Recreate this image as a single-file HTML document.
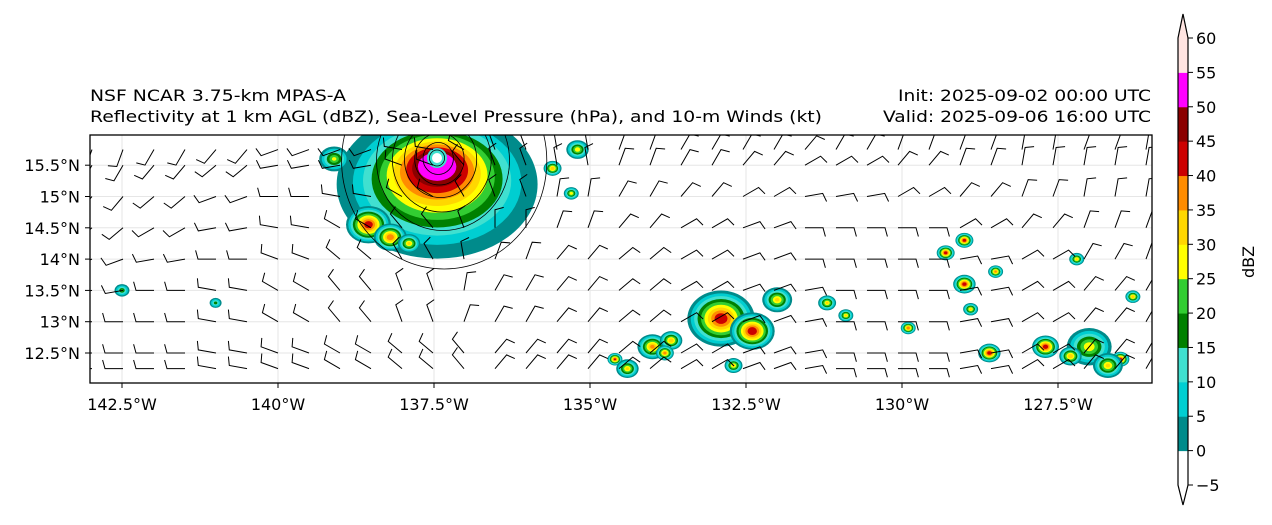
<!DOCTYPE html>
<html><head><meta charset="utf-8">
<style>
body{margin:0;background:#fff;width:1272px;height:520px;overflow:hidden;font-family:"Liberation Sans","DejaVu Sans",sans-serif}
svg text{font-family:"DejaVu Sans","Liberation Sans",sans-serif}
</style></head>
<body>
<svg id="s" width="1272" height="520" xmlns="http://www.w3.org/2000/svg">
<defs><clipPath id="mc"><rect x="90" y="135" width="1062" height="248"/></clipPath></defs>
<text x="90" y="101" font-size="16" textLength="256" lengthAdjust="spacingAndGlyphs">NSF NCAR 3.75-km MPAS-A</text>
<text x="90" y="122" font-size="16" textLength="732" lengthAdjust="spacingAndGlyphs">Reflectivity at 1 km AGL (dBZ), Sea-Level Pressure (hPa), and 10-m Winds (kt)</text>
<text x="1151" y="101" font-size="16" text-anchor="end" textLength="253" lengthAdjust="spacingAndGlyphs">Init: 2025-09-02 00:00 UTC</text>
<text x="1151" y="122" font-size="16" text-anchor="end" textLength="268" lengthAdjust="spacingAndGlyphs">Valid: 2025-09-06 16:00 UTC</text>
<g id="map" clip-path="url(#mc)"></g>
<rect x="90" y="135" width="1062" height="248" fill="none" stroke="#000" stroke-width="1.3"/>
<g id="axes"></g>
<g id="cbar"></g>
<text x="1254" y="262" font-size="16" text-anchor="middle" transform="rotate(-90 1254 262)">dBZ</text>
</svg>
<script>
const lonTicks=[-142.5,-140,-137.5,-135,-132.5,-130,-127.5];
const latTicks=[12.5,13,13.5,14,14.5,15,15.5];
const cbLevels=[-5,0,5,10,15,20,25,30,35,40,45,50,55,60];
const cbColors=['#ffffff','#008b8b','#00ced1','#40e0d0','#008000','#32cd32','#ffff00','#ffd700','#ff8c00','#cc0000','#8b0000','#ff00ff','#ffe4e1'];
// storm cells: lon, lat, radius(deg), peak dBZ
const cellLon=[-137.45,-138.55,-138.2,-137.9,-135.6,-135.3,-132.9,-132.4,-132.0,-134.0,-133.7,-131.2,-129.3,-129.0,-128.6,-128.9,-127.7,-127.0,-126.5,-126.3,-129.0,-134.6,-133.8,-128.5,-127.2,-132.7,-130.9,-129.9,-142.5,-141.0,-139.1,-135.2,-134.4,-126.7,-127.3];
const cellLat=[15.45,14.55,14.35,14.25,15.45,15.05,13.05,12.85,13.35,12.6,12.7,13.3,14.1,13.6,12.5,13.2,12.6,12.6,12.4,13.4,14.3,12.4,12.5,13.8,14.0,12.3,13.1,12.9,13.5,13.3,15.6,15.75,12.25,12.3,12.45];
const cellR=[1.4,0.3,0.22,0.15,0.12,0.1,0.45,0.3,0.2,0.2,0.15,0.12,0.12,0.15,0.15,0.1,0.18,0.3,0.12,0.1,0.12,0.1,0.12,0.1,0.1,0.12,0.1,0.1,0.1,0.08,0.2,0.15,0.15,0.2,0.15];
const cellPeak=[51,42,38,30,33,28,42,43,30,35,33,30,42,42,42,30,42,28,42,33,42,40,36,35,30,30,30,38,20,18,25,28,30,30,33];
// wind barbs: rows of direction (deg, direction wind blows FROM) per column band
const barbRows=[15.75,15.5,15.0,14.5,14.0,13.5,13.0,12.5,12.25];
const barbBandDir=[[200,210,220,250,250,280,300,340,350,20,30,30,40,30,20,20,10,20,10],[210,220,230,260,260,290,320,340,350,20,30,40,60,60,40,20,10,10,10],[220,230,250,270,280,300,330,340,10,30,40,60,80,80,60,40,20,10,10],[230,240,260,280,300,320,340,0,20,40,60,70,90,90,90,60,40,20,20],[250,260,270,290,310,330,350,20,40,50,60,70,90,90,90,80,60,30,20],[260,270,280,300,320,340,10,30,40,50,60,70,80,90,90,80,60,40,30],[270,270,280,300,320,340,20,30,40,50,60,70,80,90,90,80,60,40,30],[270,270,280,290,300,310,320,40,40,50,60,70,80,90,90,80,60,40,30],[270,270,280,290,300,310,320,40,40,50,60,70,80,90,90,80,60,40,30]];
const NS='http://www.w3.org/2000/svg';
const X=lon=>122+(lon+142.5)*156/2.5, Y=lat=>353-(lat-12.5)*62.6;
const pxDeg=62.4;
function el(t,a,p){const e=document.createElementNS(NS,t);for(const k in a)e.setAttribute(k,a[k]);p.appendChild(e);return e;}
const map=document.getElementById('map'),axes=document.getElementById('axes'),cb=document.getElementById('cbar');
lonTicks.forEach(l=>{const g=el('line',{x1:X(l),x2:X(l),y1:135,y2:383,stroke:'#e6e6e6','stroke-width':1},map);


const t=el('text',{x:X(l),y:410,'font-size':16,'text-anchor':'middle'},axes);t.textContent=(-l)+'°W';


el('line',{x1:X(l),x2:X(l),y1:383,y2:388,stroke:'#000'},axes);});
latTicks.forEach(l=>{const g=el('line',{x1:90,x2:1152,y1:Y(l),y2:Y(l),stroke:'#e6e6e6','stroke-width':1},map);


const t=el('text',{x:80,y:Y(l)+6,'font-size':16,'text-anchor':'end'},axes);t.textContent=l+'°N';


el('line',{x1:85,x2:90,y1:Y(l),y2:Y(l),stroke:'#000'},axes);});
function colorFor(v){let i=0;while(i<cbLevels.length-1&&v>=cbLevels[i+1])i++;return cbColors[Math.min(i,cbColors.length-1)];}
cellLon.forEach((lon,i)=>{const g=el('g',{},map);


const cx=X(lon),cy=Y(cellLat[i]),r=cellR[i]*pxDeg,pk=cellPeak[i];
const big=i===0;
for(let v=0;v<=pk;v+=5){const t=v/pk;const f=big?(1-Math.pow(t,0.7)*0.82):(1-t*0.85);const rx=r*f*(big?1.15:1.2),ry=r*f*(big?0.85:1);
const oy=big?-t*18:0;el('ellipse',{cx:cx,cy:cy+oy+(big?16:0),rx:rx,ry:ry,fill:colorFor(v+0.1)},g);}
if(big){el('circle',{cx:437,cy:158,r:10,fill:'#40e0d0'},g);el('circle',{cx:437,cy:158,r:5,fill:'#fff'},g);}});
const pc=el('g',{fill:'none',stroke:'#000','stroke-width':0.8},map);


[8,16,26,38,52,70,108].forEach((r,i)=>el('ellipse',{cx:437+i*1.2,cy:158+i*0.5,rx:r*0.95,ry:r},pc));
const bg=el('g',{stroke:'#000','stroke-width':1,fill:'none'},map);


barbRows.forEach((lat,ri)=>{for(let c=0;c<35;c++){const x=92+c*31,y=Y(lat);const band=Math.min(18,Math.floor(c*19/35));
const d=barbBandDir[ri][band]*Math.PI/180;const L=18;
const ex=x+Math.sin(d)*L,ey=y-Math.cos(d)*L;const fx=ex+Math.sin(d+1.3)*9,fy=ey-Math.cos(d+1.3)*9;
const p=el('path',{d:`M${x} ${y}L${ex.toFixed(1)} ${ey.toFixed(1)}L${fx.toFixed(1)} ${fy.toFixed(1)}`},bg);

}});
const cbTop=38,cbBot=485,step=(cbBot-cbTop)/13;
cbColors.forEach((c,i)=>{const y0=cbBot-(i+1)*step;
if(i===0){el('path',{d:`M1178 ${cbBot}L1188 ${cbBot}L1183 505Z`,fill:c},cb);}
if(i===12){el('path',{d:`M1178 ${cbTop+step}L1188 ${cbTop+step}L1188 ${cbTop}L1183 14L1178 ${cbTop}Z`,fill:c},cb);}
const r=el('rect',{x:1178,y:y0,width:10,height:step+0.5,fill:c},cb);

});
el('path',{d:`M1178 ${cbTop}L1183 14L1188 ${cbTop}L1188 ${cbBot}L1183 505L1178 ${cbBot}Z`,fill:'none',stroke:'#000','stroke-width':1.2},cb);
cbLevels.forEach((v,i)=>{const y=cbBot-i*step;el('line',{x1:1188,x2:1193,y1:y,y2:y,stroke:'#000'},cb);
const t=el('text',{x:1196,y:y+6,'font-size':16},cb);t.textContent=v<0?'−'+(-v):v;

});
</script>
</body></html>
